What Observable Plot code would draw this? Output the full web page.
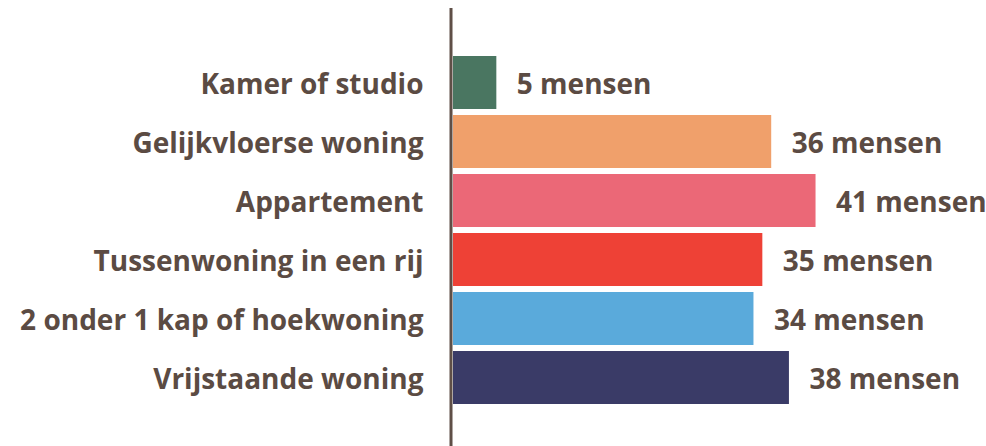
<!DOCTYPE html>
<html>
<head>
<meta charset="utf-8">
<script src="https://cdn.jsdelivr.net/npm/d3@7"></script>
<script src="https://cdn.jsdelivr.net/npm/@observablehq/plot@0.6"></script>
<style>
  html, body { margin: 0; padding: 0; background: #fff; }
  svg { display: block; }
</style>
</head>
<body>
<div id="chart"></div>
<script>
const categories = ["Kamer of studio", "Gelijkvloerse woning", "Appartement", "Tussenwoning in een rij", "2 onder 1 kap of hoekwoning", "Vrijstaande woning"];
const values = [5, 36, 41, 35, 34, 38];
const colors = ["#4a7661", "#f0a06b", "#eb6877", "#ee4136", "#5aaadb", "#3a3b67"];
const valueSuffix = " mensen";

const data = categories.map((c, i) => ({category: c, value: values[i], color: colors[i]}));
const textColor = "#5b4b43";
const font = "'Open Sans', Lato, sans-serif";

const chart = Plot.plot({
  width: 986,
  height: 446,
  marginLeft: 452,
  marginRight: 2,
  marginTop: 50,
  marginBottom: 36,
  style: {fontFamily: font, background: "#fff"},
  x: {domain: [0, 60], axis: null},
  y: {domain: categories, padding: 0.1, label: null},
  marks: [
    Plot.barX(data, {x: "value", y: "category", fill: "color", insetLeft: 1}),
    Plot.text(data, {
      x: "value", y: "category",
      text: d => d.value + valueSuffix,
      textAnchor: "start", dx: 20, dy: 2,
      fill: textColor, fontSize: 28, fontWeight: "bold"
    }),
    Plot.axisY({tickSize: 0, tickPadding: 29, dy: 2, fontSize: 28, fontWeight: "bold", fill: textColor, label: null}),
    Plot.ruleX([0], {stroke: "#5f4f47", strokeWidth: 3, dx: -1.5, insetTop: -42, insetBottom: -36})
  ]
});
document.getElementById("chart").appendChild(chart);
</script>
</body>
</html>
